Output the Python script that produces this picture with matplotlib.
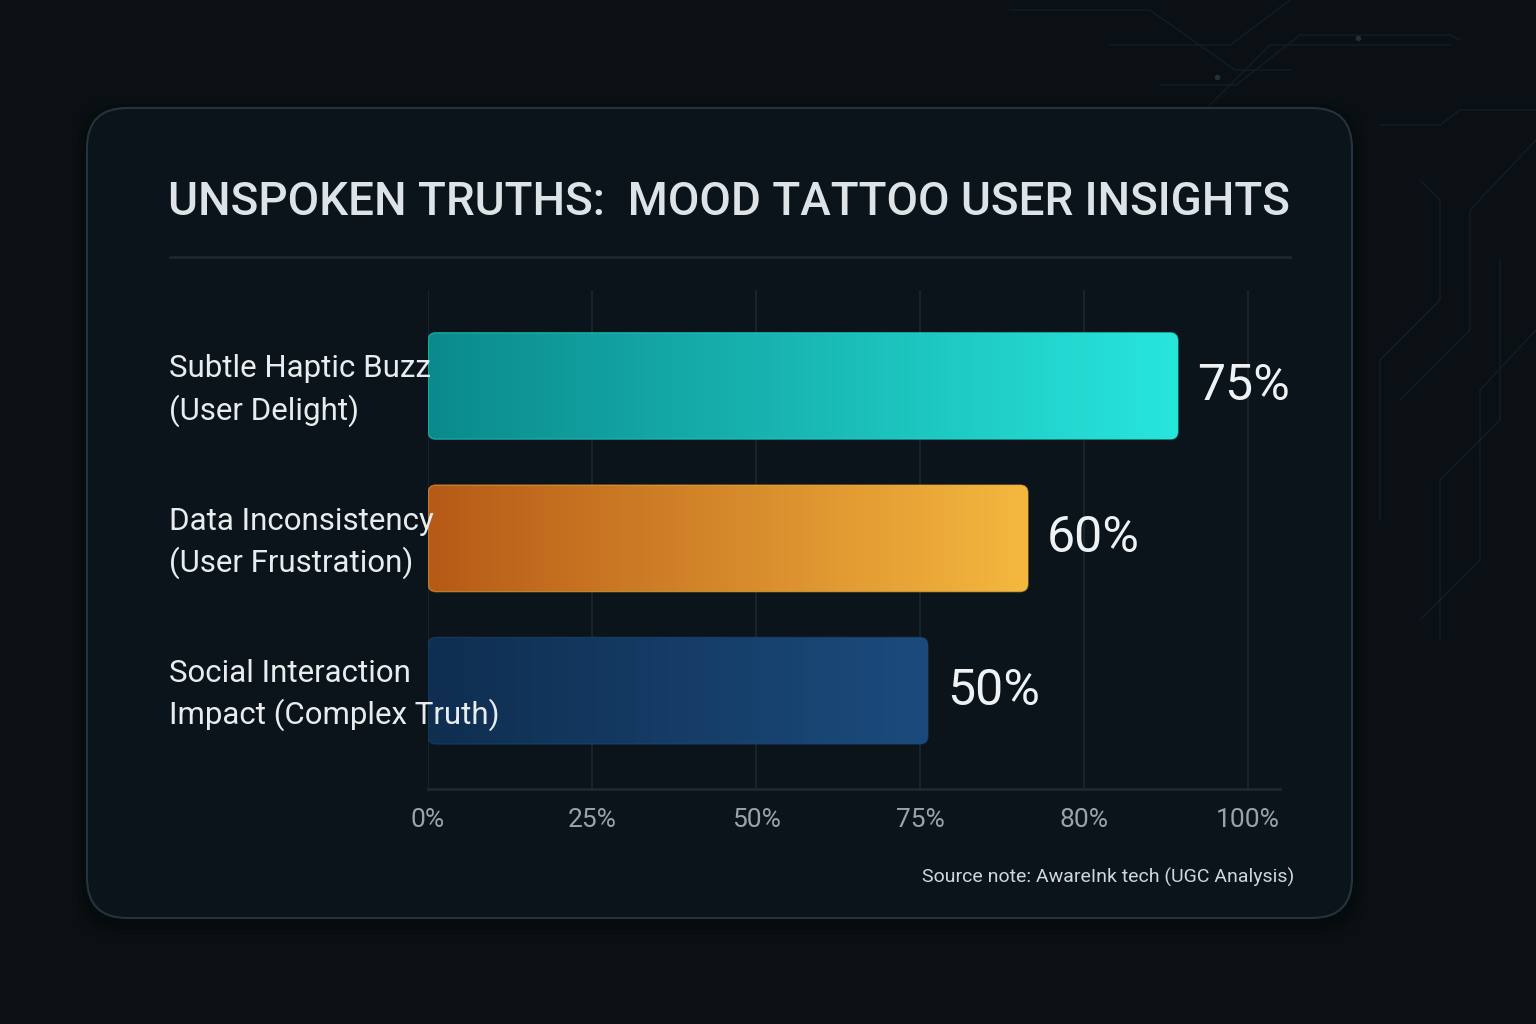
import numpy as np
import matplotlib
matplotlib.use("Agg")
import matplotlib.pyplot as plt
from matplotlib.patches import FancyBboxPatch
from matplotlib.colors import LinearSegmentedColormap

plt.rcParams['font.family'] = ['Roboto', 'DejaVu Sans']

# data
categories = ["Subtle Haptic Buzz\n(User Delight)",
              "Data Inconsistency\n(User Frustration)",
              "Social Interaction\nImpact (Complex Truth)"]
values = [75, 60, 50]
value_labels = ["75%", "60%", "50%"]
tick_labels = ["0%", "25%", "50%", "75%", "80%", "100%"]
bar_colors = [("#0b8a8c", "#27e6dc"),
              ("#b65a17", "#f5b83f"),
              ("#0f2e50", "#1b4b7d")]

W, H = 1536, 1024
fig = plt.figure(figsize=(W / 100, H / 100), dpi=100, facecolor="#0a1014")

# background layer in pixel coords
bg = fig.add_axes([0, 0, 1, 1], zorder=-10)
bg.set_xlim(0, W)
bg.set_ylim(H, 0)
bg.axis("off")

# faint circuit traces, top right
traces = [
    [(1010, 10), (1150, 10), (1235, 70), (1290, 70)],
    [(1110, 45), (1230, 45), (1290, 0)],
    [(1160, 85), (1236, 85), (1300, 35), (1450, 35), (1460, 40)],
    [(1200, 115), (1270, 45), (1450, 45)],
    [(1380, 125), (1440, 125), (1460, 110), (1536, 110)],
    [(1420, 180), (1440, 200), (1440, 300), (1380, 360), (1380, 520)],
    [(1536, 140), (1470, 210), (1470, 330), (1400, 400)],
    [(1500, 260), (1500, 420), (1440, 480), (1440, 640)],
    [(1536, 330), (1480, 390), (1480, 560), (1420, 620)],
]
for tr in traces:
    xs, ys = zip(*tr)
    bg.plot(xs, ys, color="#121d25", lw=1.1, zorder=0)
bg.plot([1217], [77], "o", color="#22303a", ms=3)
bg.plot([1358], [38], "o", color="#22303a", ms=3)

# card shadow and card
for i, a in enumerate([0.10, 0.08, 0.06]):
    pad = 10 + i * 10
    bg.add_patch(FancyBboxPatch((87 - pad / 2, 108 - pad / 2 + 6), 1265 + pad, 810 + pad,
                                boxstyle="round,pad=0,rounding_size=45",
                                facecolor="black", edgecolor="none", alpha=a, zorder=1))
bg.add_patch(FancyBboxPatch((87, 108), 1265, 810,
                            boxstyle="round,pad=0,rounding_size=40",
                            facecolor="#0b141a", edgecolor="#24333e", lw=1.5, zorder=2))

# title and separator
bg.text(168, 202, "UNSPOKEN TRUTHS:  MOOD TATTOO USER INSIGHTS", fontsize=33,
        fontweight="medium", color="#dde3e6", ha="left", va="center", zorder=3)
bg.plot([170, 1290], [257, 257], color="#1b2730", lw=2, zorder=3)

# source note
bg.text(1294, 877, "Source note: AwareInk tech (UGC Analysis)", fontsize=14,
        color="#d0d6da", ha="right", va="center", zorder=3)

# main chart axes
ax_left, ax_right, ax_top, ax_bot = 428, 1280, 290, 789
ax = fig.add_axes([ax_left / W, 1 - ax_bot / H, (ax_right - ax_left) / W, (ax_bot - ax_top) / H])
ax.set_facecolor("none")
px_per_unit = 10.0
y = np.arange(len(categories))

tick_pos = np.arange(len(tick_labels)) * 16.4
ax.set_xticks(tick_pos)
ax.set_xticklabels(tick_labels, fontsize=19, color="#9aa3a9")
ax.tick_params(axis="x", length=0, pad=14)
ax.set_yticks([])
ax.grid(axis="x", color="#18232b", lw=1.5)
ax.set_axisbelow(True)
for s in ["top", "right", "left"]:
    ax.spines[s].set_visible(False)
ax.spines["bottom"].set_color("#1d2930")
ax.spines["bottom"].set_linewidth(2)

bars = ax.barh(y, values, height=0.70, color="none", edgecolor="none")

px_y = (ax_bot - ax_top) / (2.645 + 0.63)
aspect = px_per_unit / px_y
grad = np.linspace(0, 1, 256).reshape(1, -1)
for bar, (c0, c1), lab in zip(bars, bar_colors, value_labels):
    x0, y0 = bar.get_x(), bar.get_y()
    w, h = bar.get_width(), bar.get_height()
    patch = FancyBboxPatch((x0, y0), w, h,
                           boxstyle="round,pad=0,rounding_size=0.8",
                           mutation_aspect=aspect,
                           facecolor="none", edgecolor=c1, lw=1, alpha=0.5, zorder=3)
    ax.add_patch(patch)
    cmap = LinearSegmentedColormap.from_list("g", [c0, c1])
    im = ax.imshow(grad, cmap=cmap, aspect="auto", extent=(x0, x0 + w, y0 + h, y0),
                   zorder=2, interpolation="bicubic")
    im.set_clip_path(patch)
    ax.text(x0 + w + 1.9, y0 + h / 2, lab, fontsize=36, color="#eef2f4",
            ha="left", va="center")

ax.set_xlim(0, (ax_right - ax_left) / px_per_unit)
ax.set_ylim(2.645, -0.63)

# category labels
for yi, cat in zip(y, categories):
    ax.text((169 - ax_left) / (ax_right - ax_left), yi + 0.03, cat, transform=ax.get_yaxis_transform(),
            fontsize=22.5, color="#e8ecee", ha="left", va="center", linespacing=1.42)

fig.savefig("out.png", dpi=100, facecolor=fig.get_facecolor())
